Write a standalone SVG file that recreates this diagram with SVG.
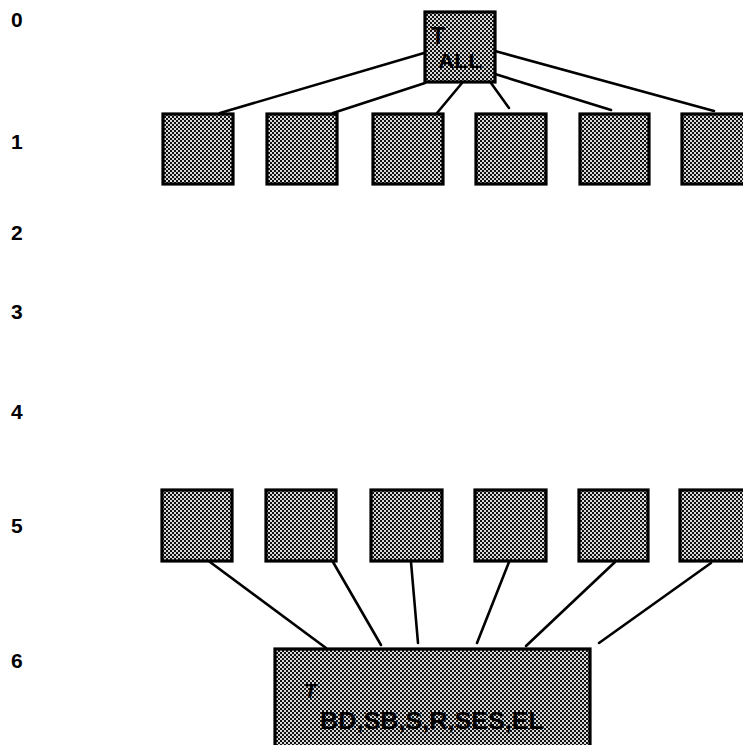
<svg xmlns="http://www.w3.org/2000/svg" width="743" height="745" viewBox="0 0 743 745">
<defs>
<pattern id="dots" width="4" height="4" patternUnits="userSpaceOnUse">
<rect width="4" height="4" fill="#d8d8d8"/>
<rect x="0" y="0" width="2" height="2" fill="#111111"/>
<rect x="2" y="2" width="2" height="2" fill="#111111"/>
</pattern>
</defs>
<style>
.node{fill:url(#dots);stroke:#000;stroke-width:3.2}
.edge{stroke:#000;stroke-width:2.6;fill:none;stroke-linecap:round}
.lvl{font-family:"Liberation Sans",Arial,sans-serif;font-weight:bold;font-size:21px;fill:#000}
.lab{font-family:"Liberation Sans",Arial,sans-serif;font-weight:bold;fill:#000}
</style>
<rect width="743" height="745" fill="#fff"/>
<g id="levels">
<text class="lvl" x="11" y="27">0</text>
<text class="lvl" x="11" y="149">1</text>
<text class="lvl" x="11" y="240">2</text>
<text class="lvl" x="11" y="319">3</text>
<text class="lvl" x="11" y="419">4</text>
<text class="lvl" x="11" y="533">5</text>
<text class="lvl" x="11" y="668">6</text>
</g>
<g id="connectors">
<line class="edge" x1="424" y1="53" x2="220" y2="113"/>
<line class="edge" x1="425" y1="83" x2="333" y2="113"/>
<line class="edge" x1="462" y1="83" x2="437" y2="113"/>
<line class="edge" x1="491" y1="83" x2="509" y2="108"/>
<line class="edge" x1="495" y1="74" x2="611" y2="110"/>
<line class="edge" x1="495" y1="51" x2="714" y2="111"/>
<line class="edge" x1="210" y1="562" x2="326" y2="648"/>
<line class="edge" x1="333" y1="562" x2="381" y2="645"/>
<line class="edge" x1="411" y1="562" x2="418" y2="643"/>
<line class="edge" x1="509" y1="562" x2="477" y2="643"/>
<line class="edge" x1="615" y1="562" x2="526" y2="646"/>
<line class="edge" x1="711" y1="563" x2="599" y2="643"/>
</g>
<g id="root">
<rect class="node" x="425" y="12" width="70" height="70"/>
<text class="lab" x="431" y="44" font-size="23">T</text>
<text class="lab" x="438" y="68" font-size="21" textLength="44" lengthAdjust="spacingAndGlyphs">ALL</text>
</g>
<g id="l1n1"><rect class="node" x="163" y="114" width="70" height="70"/></g>
<g id="l1n2"><rect class="node" x="267" y="114" width="70" height="70"/></g>
<g id="l1n3"><rect class="node" x="373" y="114" width="70" height="70"/></g>
<g id="l1n4"><rect class="node" x="476" y="114" width="70" height="70"/></g>
<g id="l1n5"><rect class="node" x="580" y="114" width="69" height="70"/></g>
<g id="l1n6"><rect class="node" x="682" y="114" width="70" height="70"/></g>
<g id="l5n1"><rect class="node" x="162" y="490" width="70" height="71"/></g>
<g id="l5n2"><rect class="node" x="266" y="490" width="70" height="71"/></g>
<g id="l5n3"><rect class="node" x="371" y="490" width="71" height="71"/></g>
<g id="l5n4"><rect class="node" x="475" y="490" width="71" height="71"/></g>
<g id="l5n5"><rect class="node" x="579" y="490" width="69" height="71"/></g>
<g id="l5n6"><rect class="node" x="680" y="490" width="70" height="71"/></g>
<g id="leaf">
<rect class="node" x="275" y="649" width="315" height="110"/>
<text class="lab" x="304" y="698" font-size="21" font-style="italic">T</text>
<text class="lab" x="320" y="729" font-size="23" textLength="224" lengthAdjust="spacingAndGlyphs">BD,SB,S,R,SES,EL</text>
</g>
</svg>
